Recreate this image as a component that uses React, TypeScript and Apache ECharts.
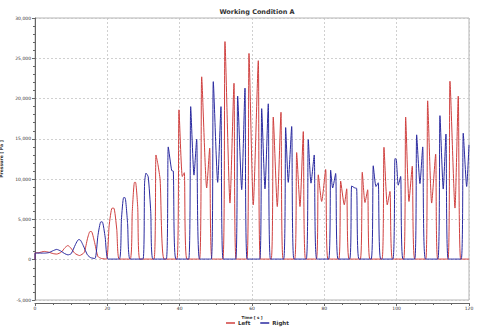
import React, { useEffect, useRef } from 'react';
import * as echarts from 'echarts';

const chartTitle = 'Working Condition A';
const seriesNames = ['Left', 'Right'];

// Left (red) trace: time [s] and pressure [Pa]
const leftTime = [
  0, 0.05, 1.0, 2.6, 3.8, 5.0, 6.0, 7.3, 8.3, 9.1, 9.9, 11.0, 12.3, 13.6, 14.5, 15.2, 15.6, 16.4, 17.4, 18.4,
  19.8, 20.5, 21.3, 21.8, 22.6, 23.3, 26.3, 26.9, 27.5, 27.8, 28.4, 29.0,
  32.9, 33.45, 34.0, 34.6, 35.7,
  39.25, 39.81, 40.73, 41.28, 42.0,
  45.5, 46.09, 47.47, 48.3, 48.95,
  51.95, 52.53, 53.91, 55.02, 55.6,
  58.6, 59.17, 60.35, 61.74, 62.3,
  65.3, 65.88, 66.99, 68.01, 68.6,
  71.8, 72.35, 73.27, 74.18, 74.8,
  77.8, 78.33, 79.26, 80.37, 81.0,
  84.0, 84.52, 85.51, 86.18, 86.85,
  89.95, 90.49, 91.24, 91.98, 92.6,
  95.95, 96.49, 97.4, 98.15, 98.85,
  101.95, 102.49, 103.4, 104.31, 105.0,
  108.05, 108.57, 109.68, 110.78, 111.35,
  114.2, 114.74, 116.12, 117.03, 117.7,
  120,
];
const leftPressure = [
  0, 850, 870, 1030, 930, 760, 700, 950, 1500, 1760, 1450, 800, 520, 900, 2600, 3500, 3500, 2300, 400, 150,
  80, 4200, 6400, 6400, 3800, 80, 80, 6000, 9600, 9600, 6500, 80,
  80, 13000, 11800, 9900, 80,
  80, 18600, 10330, 10800, 80,
  80, 22700, 8900, 13850, 80,
  80, 27070, 7030, 21900, 80,
  80, 25600, 6800, 24700, 80,
  80, 17700, 6600, 18300, 80,
  80, 13300, 6600, 15900, 80,
  80, 10540, 7230, 11200, 80,
  80, 9750, 6820, 8800, 80,
  80, 10850, 7100, 8680, 80,
  80, 13950, 6800, 8470, 80,
  80, 17700, 7230, 11600, 80,
  80, 19720, 7030, 13100, 80,
  80, 22150, 6410, 20300, 80,
  80,
];

// Right (blue) trace: time [s] and pressure [Pa]
const rightTime = [
  0, 0.05, 2.6, 3.8, 4.9, 6.0, 7.1, 8.2, 9.1, 10.0, 11.2, 12.0, 12.4, 13.4, 14.5, 15.4,
  16.6, 17.4, 18.2, 18.6, 19.4, 20.2,
  23.3, 23.9, 24.5, 24.9, 25.6, 26.3,
  29.86, 30.3, 30.69, 31.3, 32.0, 32.62,
  36.3, 36.85, 37.79, 38.24, 38.98,
  42.5, 43.05, 43.96, 44.7, 45.5,
  48.75, 49.3, 50.51, 51.42, 52.0,
  55.5, 56.04, 57.15, 58.06, 58.65,
  62.15, 62.68, 63.59, 64.5, 65.1,
  68.75, 69.31, 70.03, 70.97, 71.6,
  75.0, 75.56, 76.31, 77.2, 77.9,
  81.2, 81.75, 82.3, 83.13, 83.8,
  87.0, 87.56, 88.47, 88.94, 89.6,
  92.95, 93.53, 94.28, 94.91, 95.6,
  98.95, 99.53, 99.9, 100.44, 101.1, 101.75,
  105.0, 105.53, 106.44, 107.2, 107.95,
  111.4, 111.97, 112.88, 113.63, 114.25,
  117.85, 118.41, 119.35, 120,
];
const rightPressure = [
  0, 830, 820, 880, 1100, 1280, 1080, 760, 600, 750, 1900, 2480, 2480, 1700, 600, 250,
  150, 3000, 4700, 4700, 2800, 80,
  80, 5000, 7700, 7700, 4500, 80,
  80, 9500, 10750, 10300, 6000, 80,
  80, 14000, 11070, 11000, 80,
  80, 19000, 10500, 14960, 80,
  80, 22100, 9600, 19000, 80,
  80, 20300, 8700, 21300, 80,
  80, 18750, 8800, 19350, 80,
  80, 16400, 9600, 16530, 80,
  80, 14900, 9500, 13000, 80,
  80, 11100, 8900, 10700, 80,
  80, 9150, 8900, 8850, 80,
  80, 11660, 9090, 9550, 80,
  80, 12550, 12450, 9250, 10330, 80,
  80, 15500, 9450, 14000, 80,
  80, 17880, 8770, 15600, 80,
  80, 15700, 9090, 14260,
];

const xMin = 0;
const xMax = 120;
const xStep = 20;
const yMin = -5000;
const yMax = 30000;
const yStep = 5000;

const FONT = 'DejaVu Sans';

export default function App() {
  const ref = useRef<HTMLDivElement>(null);
  useEffect(() => {
    const chart = echarts.init(ref.current!, null, { renderer: 'svg' });
    const leftData = leftTime.map((t, i) => [t, leftPressure[i]]);
    const rightData = rightTime.map((t, i) => [t, rightPressure[i]]);
    const fmt = (v: number) => {
      const s = Math.abs(v).toString().replace(/\B(?=(\d{3})+(?!\d))/g, ',');
      return v < 0 ? '-' + s : s;
    };
    chart.setOption({
      animation: false,
      backgroundColor: '#ffffff',
      title: {
        text: chartTitle,
        left: 252,
        textAlign: 'center',
        top: 3,
        textStyle: { fontFamily: FONT, fontSize: 6.5, fontWeight: 'bold', color: '#333' },
      },
      legend: {
        data: seriesNames,
        bottom: 8,
        left: 226,
        padding: 0,
        icon: 'rect',
        itemWidth: 9,
        itemHeight: 1.5,
        itemGap: 10,
        textStyle: { fontFamily: FONT, fontSize: 5.5, fontWeight: 'bold', color: '#333', padding: [0, 0, 0, -2] },
      },
      grid: {
        left: 35,
        right: 11,
        top: 18,
        bottom: 34,
        show: true,
        borderColor: '#b5b5b5',
        borderWidth: 1,
        outerBoundsMode: 'none',
        containLabel: false,
      },
      xAxis: {
        type: 'value',
        min: xMin,
        max: xMax,
        interval: xStep,
        offset: 3,
        name: 'Time [ s ]',
        nameLocation: 'middle',
        nameGap: 10,
        nameTextStyle: { fontFamily: FONT, fontSize: 4, fontWeight: 'bold', color: '#333' },
        axisLine: { onZero: false, lineStyle: { color: '#666', width: 1 } },
        axisTick: { show: true, length: 3, lineStyle: { color: '#666' } },
        minorTick: { show: true, splitNumber: 4, length: 2, lineStyle: { color: '#666' } },
        axisLabel: { fontFamily: FONT, fontSize: 4.5, color: '#333', margin: 3 },
        splitLine: { show: true, lineStyle: { color: '#c4c4c4', type: [2, 2], width: 0.8 } },
      },
      yAxis: {
        type: 'value',
        min: yMin,
        max: yMax,
        interval: yStep,
        offset: 1,
        name: 'Pressure [ Pa ]',
        nameLocation: 'middle',
        nameRotate: 90,
        nameGap: 22,
        nameTextStyle: { fontFamily: FONT, fontSize: 4.5, fontWeight: 'bold', color: '#333' },
        axisLine: { show: true, lineStyle: { color: '#666', width: 1 } },
        axisTick: { show: true, length: 3, lineStyle: { color: '#666' } },
        minorTick: { show: true, splitNumber: 5, length: 2, lineStyle: { color: '#666' } },
        axisLabel: { fontFamily: FONT, fontSize: 4.5, color: '#333', margin: 3, formatter: fmt },
        splitLine: { show: true, lineStyle: { color: '#c4c4c4', type: [2, 2], width: 0.8 } },
      },
      series: [
        {
          name: seriesNames[0],
          type: 'line',
          data: leftData,
          showSymbol: false,
          smooth: 0.2,
          lineStyle: { color: '#d0403f', width: 1 },
          itemStyle: { color: '#d0403f' },
        },
        {
          name: seriesNames[1],
          type: 'line',
          data: rightData,
          showSymbol: false,
          smooth: 0.2,
          lineStyle: { color: '#2a2aa0', width: 1 },
          itemStyle: { color: '#2a2aa0' },
        },
      ],
    });
    return () => chart.dispose();
  }, []);
  return (
    <div
      ref={ref}
      style={{ position: 'fixed', left: 0, top: 0, width: 480, height: 334, background: '#fff' }}
    />
  );
}
